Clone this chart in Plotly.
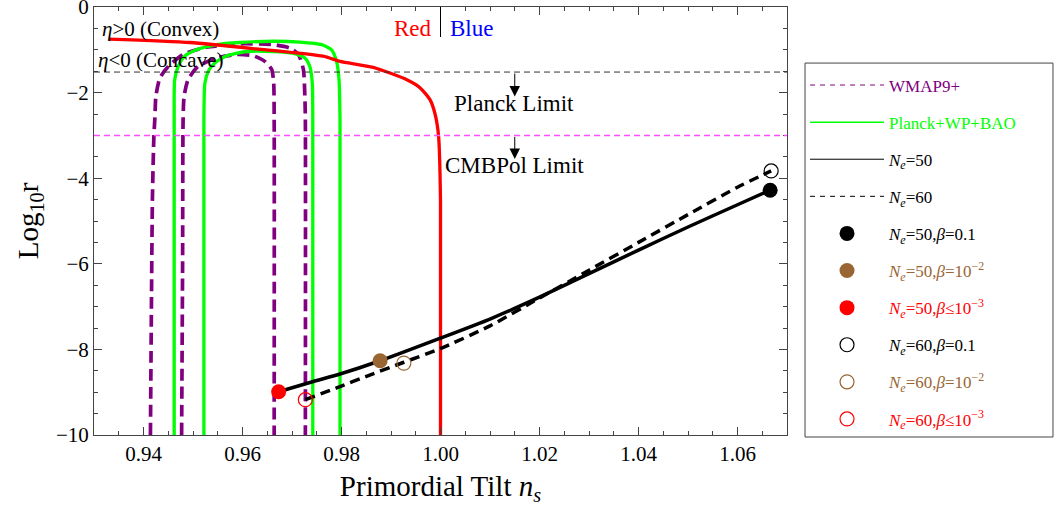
import plotly.graph_objects as go

# ---------------- data ----------------
# WMAP9+ contours (dashed purple), outer = 2 sigma, inner = 1 sigma
wmap_outer_x = [0.9414, 0.9416, 0.9418, 0.9421, 0.9423, 0.9425, 0.9433, 0.9450, 0.9480, 0.9527,
                0.9595, 0.9662, 0.9696, 0.9713, 0.9723, 0.9726, 0.9727, 0.9727]
wmap_outer_y = [-10.0, -7.0, -4.5, -3.0, -2.6, -2.09, -1.66, -1.39, -1.11, -0.94,
                -0.86, -0.88, -0.96, -1.11, -1.46, -2.09, -2.63, -10.0]
wmap_inner_x = [0.9477, 0.9479, 0.9480, 0.9482, 0.9490, 0.9510, 0.9548, 0.9588, 0.9622, 0.9645,
                0.9659, 0.9663, 0.9664, 0.9664]
wmap_inner_y = [-10.0, -6.0, -2.63, -2.09, -1.70, -1.39, -1.19, -1.11, -1.14, -1.27,
                -1.46, -1.78, -2.63, -10.0]

# Planck+WP+BAO contours (solid green)
planck_outer_x = [0.9462, 0.9462, 0.9463, 0.9470, 0.9483, 0.9507, 0.9548, 0.9595, 0.9662, 0.9716,
                  0.9760, 0.9780, 0.9790, 0.9795, 0.9797, 0.9797]
planck_outer_y = [-10.0, -2.63, -1.70, -1.39, -1.15, -1.00, -0.88, -0.83, -0.80, -0.82,
                  -0.88, -1.00, -1.27, -1.70, -2.63, -10.0]
planck_inner_x = [0.9522, 0.9522, 0.9524, 0.9531, 0.9544, 0.9568, 0.9608, 0.9662, 0.9702, 0.9726,
                  0.9736, 0.9741, 0.9742, 0.9742]
planck_inner_y = [-10.0, -2.63, -1.78, -1.50, -1.31, -1.14, -1.04, -1.04, -1.08, -1.19,
                  -1.39, -1.78, -2.63, -10.0]

# convex / concave boundary (red)
eta_x = [0.9330, 0.9494, 0.9628, 0.9763, 0.9797, 0.9864, 0.9932, 0.9959, 0.9979, 0.9989,
         0.9996, 1.0000, 1.0000]
eta_y = [-0.75, -0.83, -0.98, -1.15, -1.27, -1.41, -1.70, -1.89, -2.17, -2.50,
         -3.00, -4.50, -10.0]

# model predictions
ne50_x = [0.9673, 0.9743, 0.9797, 0.9878, 1.0000, 1.0100, 1.0200, 1.0300, 1.0400, 1.0500,
          1.0600, 1.0666]
ne50_y = [-8.99, -8.75, -8.575, -8.265, -7.735, -7.29, -6.78, -6.23, -5.68, -5.14,
          -4.62, -4.28]
ne60_x = [0.9727, 0.9790, 0.9857, 0.9926, 1.0000, 1.0100, 1.0200, 1.0300, 1.0400, 1.0500,
          1.0600, 1.0668]
ne60_y = [-9.175, -8.90, -8.60, -8.30, -7.98, -7.45, -6.80, -6.15, -5.50, -4.85,
          -4.21, -3.83]

# benchmark points: Ne=50 (beta=0.1, 1e-2, <=1e-3), Ne=60 (same)
pt_x = [1.0666, 0.9878, 0.9673, 1.0668, 0.9926, 0.9727]
pt_y = [-4.28, -8.265, -8.99, -3.83, -8.32, -9.175]

# limits
PLANCK_LIMIT = -1.52
CMBPOL_LIMIT = -3.0
PLANCK_ARROW_TIP = -2.09
CMBPOL_ARROW_TIP = -3.55
ARROW_X = 1.0150

# axes
x_range = [0.93, 1.07]
y_range = [-10, 0]

# ---------------- style ----------------
FONT = "Liberation Serif"
PURPLE = "#800080"
GREEN = "#00FF00"
RED = "#FF0000"
BROWN = "#996633"
MAGENTA = "#FF4DFF"
BLACK = "#000000"
FRAME = "#444444"

fig = go.Figure()


def line_trace(x, y, color, width, dash="solid"):
    fig.add_trace(go.Scatter(x=x, y=y, mode="lines", showlegend=False, hoverinfo="skip",
                             line=dict(color=color, width=width, dash=dash, shape="spline",
                                       smoothing=0.6)))


line_trace(wmap_outer_x, wmap_outer_y, PURPLE, 3.7, "12px,6px")
line_trace(wmap_inner_x, wmap_inner_y, PURPLE, 3.7, "12px,6px")
line_trace(planck_outer_x, planck_outer_y, GREEN, 3.3)
line_trace(planck_inner_x, planck_inner_y, GREEN, 3.3)
line_trace(eta_x, eta_y, RED, 3.3)
line_trace(ne50_x, ne50_y, BLACK, 3.5)
line_trace(ne60_x, ne60_y, BLACK, 3.5, "10px,6px")


def span(txt, color):
    return f'<span style="color:{color}">{txt}</span>'


# legend-only line samples
legend_count = [0]


def legend_line(name, color, dash, width=1):
    legend_count[0] += 1
    fig.add_trace(go.Scatter(x=[None], y=[None], mode="lines", name=name,
                             legendgroup=f"g{legend_count[0]}",
                             line=dict(color=color, width=width, dash=dash)))


NE = "<i>N</i><sub><i>e</i></sub>"
legend_line(span("WMAP9+", PURPLE), PURPLE, "5px,5px")
legend_line(span("Planck+WP+BAO", GREEN), GREEN, "solid", 1.5)
legend_line(span(NE + "=50", BLACK), BLACK, "solid")
legend_line(span(NE + "=60", BLACK), BLACK, "5px,5px")

pt_names = [
    span(NE + "=50,<i>β</i>=0.1", BLACK),
    span(NE + "=50,<i>β</i>=10<sup>−2</sup>", BROWN),
    span(NE + "=50,<i>β</i>≤10<sup>−3</sup>", RED),
    span(NE + "=60,<i>β</i>=0.1", BLACK),
    span(NE + "=60,<i>β</i>=10<sup>−2</sup>", BROWN),
    span(NE + "=60,<i>β</i>≤10<sup>−3</sup>", RED),
]
pt_colors = [BLACK, BROWN, RED, BLACK, BROWN, RED]
pt_symbols = ["circle", "circle", "circle", "circle-open", "circle-open", "circle-open"]
pt_sizes = [15, 15, 15, 14, 14, 14]
for i in range(6):
    legend_count[0] += 1
    fig.add_trace(go.Scatter(
        x=[pt_x[i]], y=[pt_y[i]], mode="markers", name=pt_names[i],
        legendgroup=f"g{legend_count[0]}", hoverinfo="skip",
        marker=dict(color=pt_colors[i], size=pt_sizes[i], symbol=pt_symbols[i],
                    line=dict(color=pt_colors[i], width=0 if i < 3 else 1.2)),
    ))

# limit lines
fig.add_hline(y=PLANCK_LIMIT, line=dict(color="#333333", width=1, dash="6px,4px"))
fig.add_hline(y=CMBPOL_LIMIT, line=dict(color=MAGENTA, width=1.5, dash="6px,4px"))
# red | blue separator
fig.add_shape(type="line", xref="x", yref="y", x0=1.0, x1=1.0, y0=0, y1=-0.70,
              line=dict(color=BLACK, width=1))

# arrows
for tail, tip in [(PLANCK_LIMIT, PLANCK_ARROW_TIP), (CMBPOL_LIMIT, CMBPOL_ARROW_TIP)]:
    fig.add_annotation(x=ARROW_X, y=tip, ax=ARROW_X, ay=tail, xref="x", yref="y",
                       axref="x", ayref="y", text="", showarrow=True, arrowhead=2,
                       arrowsize=2.1, arrowwidth=1, arrowcolor=BLACK, standoff=0,
                       startstandoff=0)


def label(x, y, txt, color=BLACK, size=22, xanchor="center"):
    fig.add_annotation(x=x, y=y, xref="x", yref="y", text=txt, showarrow=False,
                       xanchor=xanchor, yanchor="middle",
                       font=dict(family=FONT, size=size, color=color))


label(0.9435, -0.52, "<i>η</i>&gt;0 (Convex)", size=21)
label(0.9435, -1.23, "<i>η</i>&lt;0 (Concave)", size=21)
label(0.9986, -0.50, "Red", RED, 23, "right")
label(1.0016, -0.50, "Blue", "#0000FF", 23, "left")
label(1.0149, -2.25, "Planck Limit", size=23)
label(1.0149, -3.71, "CMBPol Limit", size=23)

# legend frame
fig.add_shape(type="rect", xref="paper", yref="paper", x0=1.026, x1=1.3838, y0=-0.0047,
              y1=0.869, line=dict(color=FRAME, width=1), fillcolor="rgba(0,0,0,0)")

axis_common = dict(showline=True, linecolor=FRAME, linewidth=1, mirror="ticks",
                   ticks="inside", ticklen=8, tickcolor=FRAME, showgrid=False,
                   zeroline=False, ticklabeloverflow="allow",
                   tickfont=dict(family=FONT, size=21, color=BLACK))

fig.update_xaxes(range=x_range, dtick=0.02, tick0=0, tickformat=".2f",
                 minor=dict(dtick=0.005, ticklen=4, ticks="inside", tickcolor=FRAME),
                 title=dict(text="Primordial Tilt <i>n</i><sub><i>s</i></sub>",
                            font=dict(family=FONT, size=29, color=BLACK), standoff=10),
                 **axis_common)
fig.update_yaxes(range=y_range, dtick=2, tick0=0,
                 minor=dict(dtick=0.5, ticklen=4, ticks="inside", tickcolor=FRAME),
                 title=dict(text="Log<sub>10</sub>r",
                            font=dict(family=FONT, size=29, color=BLACK), standoff=8),
                 **axis_common)

fig.update_layout(
    width=1061, height=510,
    margin=dict(l=94, r=274, t=7, b=75, autoexpand=False),
    paper_bgcolor="white", plot_bgcolor="white",
    font=dict(family=FONT, size=17, color=BLACK),
    legend=dict(x=1.026, y=0.8587, xanchor="left", yanchor="top", traceorder="grouped",
                tracegroupgap=12, itemwidth=74, bgcolor="rgba(0,0,0,0)", borderwidth=0,
                font=dict(family=FONT, size=17, color=BLACK)),
    showlegend=True,
)

fig.write_html("out.html", config={"displayModeBar": False},
               post_script="document.body.style.margin='0';")
